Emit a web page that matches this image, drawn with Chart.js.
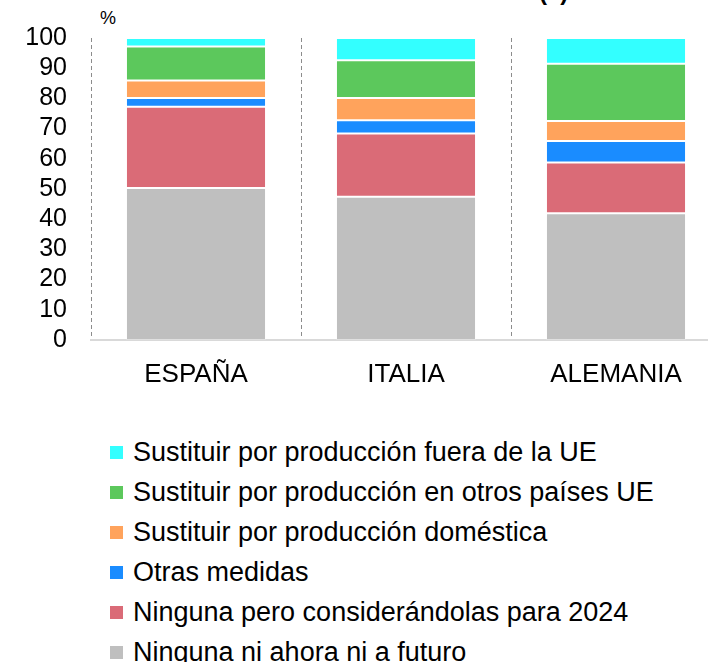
<!DOCTYPE html>
<html>
<head>
<meta charset="utf-8">
<script src="https://cdn.jsdelivr.net/npm/chart.js@4.4.0/dist/chart.umd.min.js"></script>
<style>
    body { margin: 0; width: 708px; height: 662px; overflow: hidden; background: #fff; position: relative;
           font-family: "Liberation Sans", Arial, Helvetica, sans-serif; color: #000; }
    #chart-box { position: absolute; left: 0; top: 0; width: 730px; height: 410px; }
    #unit { position: absolute; left: 100px; top: 8px; font-size: 18px; }
    #title { position: absolute; left: 539px; top: -22px; font-size: 24px; font-weight: bold; }
    #legend { position: absolute; left: 110px; top: 432px; }
    .legend-item { display: flex; align-items: center; height: 40px; font-size: 27px; white-space: nowrap; }
    .legend-box { width: 13px; height: 13px; margin-right: 10px; }
</style>
</head>
<body>
<div id="title">(a)</div>
<div id="unit">%</div>
<div id="chart-box"><canvas id="myChart" width="730" height="410"></canvas></div>
<div id="legend"></div>

<script>
const countries = ['ESPAÑA', 'ITALIA', 'ALEMANIA'];

// series, from bottom of the stack to the top
const seriesNames = [
    'Ninguna ni ahora ni a futuro',
    'Ninguna pero considerándolas para 2024',
    'Otras medidas',
    'Sustituir por producción doméstica',
    'Sustituir por producción en otros países UE',
    'Sustituir por producción fuera de la UE'
];
const ningunaNunca = [50.3, 47.4, 42.0];
const ningunaConsiderando = [26.9, 21.0, 16.8];
const otrasMedidas = [2.9, 4.4, 7.1];
const prodDomestica = [5.8, 7.3, 6.6];
const prodOtrosUE = [11.3, 12.5, 19.0];
const prodFueraUE = [2.8, 7.4, 8.5];

const seriesColors = ['#bfbfbf', '#da6b77', '#1a8cff', '#ffa35c', '#5cc85c', '#33ffff'];
const yTicks = [0, 10, 20, 30, 40, 50, 60, 70, 80, 90, 100];

const seriesValues = [ningunaNunca, ningunaConsiderando, otrasMedidas, prodDomestica, prodOtrosUE, prodFueraUE];

const datasets = seriesNames.map((name, i) => ({
    label: name,
    data: seriesValues[i],
    backgroundColor: seriesColors[i],
    borderColor: 'rgba(255,255,255,0.2)',
    borderWidth: 1,
    borderSkipped: false,
    categoryPercentage: 1,
    barPercentage: 0.667
}));

const ctx = document.getElementById('myChart').getContext('2d');
new Chart(ctx, {
    type: 'bar',
    data: { labels: countries, datasets: datasets },
    options: {
        responsive: false,
        animation: false,
        devicePixelRatio: 1,
        layout: { padding: { top: 38, right: 9, left: 0, bottom: 0 } },
        plugins: {
            legend: { display: false },
            tooltip: { enabled: false }
        },
        scales: {
            x: {
                stacked: true,
                grid: { display: true, offset: true, drawTicks: false, color: '#8c8c8c', lineWidth: 1 },
                border: { display: true, color: '#d9d9d9', width: 2, dash: [4, 3] },
                ticks: { color: '#000', padding: 19, font: { family: 'Liberation Sans', size: 26 } },
                afterFit: (scale) => { scale.height = 70; }
            },
            y: {
                stacked: true,
                min: 0,
                max: 100,
                afterBuildTicks: (scale) => { scale.ticks = yTicks.map(v => ({ value: v })); },
                grid: { display: false, drawTicks: false },
                border: { display: false },
                ticks: { color: '#000', padding: 24, autoSkip: false, font: { family: 'Liberation Sans', size: 25, lineHeight: 1 } },
                afterFit: (scale) => { scale.width = 91; }
            }
        }
    }
});

// legend, top item is the top of the stack
const legendDiv = document.getElementById('legend');
for (let i = seriesNames.length - 1; i >= 0; i--) {
    const item = document.createElement('div');
    item.classList.add('legend-item');
    const box = document.createElement('span');
    box.classList.add('legend-box');
    box.style.backgroundColor = seriesColors[i];
    const text = document.createElement('span');
    text.textContent = seriesNames[i];
    item.appendChild(box);
    item.appendChild(text);
    legendDiv.appendChild(item);
}
</script>
</body>
</html>
